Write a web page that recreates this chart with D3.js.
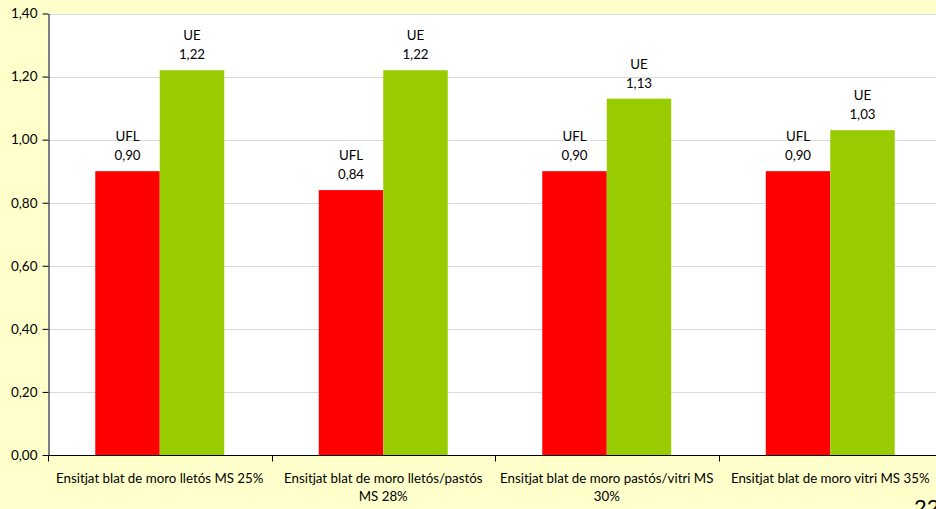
<!DOCTYPE html>
<html>
<head>
<meta charset="utf-8">
<script src="https://cdn.jsdelivr.net/npm/d3@7"></script>
<style>
  html, body { margin: 0; padding: 0; background: #FFFFCC; overflow: hidden; }
  svg { display: block; }
  text { font-family: Lato, "Open Sans", sans-serif; fill: #000; }
</style>
</head>
<body>
<svg id="chart" width="936" height="509"></svg>
<script>
const categories = [
  "Ensitjat blat de moro lletós MS 25%",
  "Ensitjat blat de moro lletós/pastós MS 28%",
  "Ensitjat blat de moro pastós/vitri MS 30%",
  "Ensitjat blat de moro vitri MS 35%"
];
const categoryLines = [
  ["Ensitjat blat de moro lletós MS 25%"],
  ["Ensitjat blat de moro lletós/pastós", "MS 28%"],
  ["Ensitjat blat de moro pastós/vitri MS", "30%"],
  ["Ensitjat blat de moro vitri MS 35%"]
];
const seriesNames = ["UFL", "UE"];
const uflValues = [0.90, 0.84, 0.90, 0.90];
const ueValues = [1.22, 1.22, 1.13, 1.03];
const yTicks = [0, 0.2, 0.4, 0.6, 0.8, 1.0, 1.2, 1.4];
const seriesColors = ["#FF0000", "#99CC00"];
const pageNumber = "22";

const svg = d3.select("#chart");
const plot = { left: 48, right: 942, top: 13.5, bottom: 455 };

svg.append("rect").attr("x", 0).attr("y", 0).attr("width", 936).attr("height", 509).attr("fill", "#FFFFCC");
svg.append("rect")
  .attr("x", plot.left).attr("y", plot.top)
  .attr("width", plot.right - plot.left).attr("height", plot.bottom - plot.top)
  .attr("fill", "#FFFFFF");

const x0 = d3.scaleBand().domain(categories).range([plot.left, plot.right]).paddingInner(0).paddingOuter(0);
const x1 = d3.scaleBand().domain(seriesNames).range([0, x0.bandwidth()]).paddingOuter(0.733).paddingInner(0);
const y = d3.scaleLinear().domain([0, 1.4]).range([plot.bottom, plot.top]);

const fmt = v => d3.format(".2f")(v).replace(".", ",");

// gridlines
svg.append("g").selectAll("line").data(yTicks.filter(t => t > 0)).join("line")
  .attr("x1", plot.left).attr("x2", plot.right)
  .attr("y1", d => Math.round(y(d)) + 0.5).attr("y2", d => Math.round(y(d)) + 0.5)
  .attr("stroke", "#D9D9D9").attr("stroke-width", 1);

// bars
const data = categories.map((c, i) => ({ cat: c, vals: [uflValues[i], ueValues[i]] }));
const groups = svg.append("g").selectAll("g").data(data).join("g")
  .attr("transform", d => `translate(${x0(d.cat)},0)`);
groups.selectAll("rect").data(d => d.vals.map((v, j) => ({ name: seriesNames[j], v, j }))).join("rect")
  .attr("x", d => x1(d.name)).attr("width", x1.bandwidth())
  .attr("y", d => y(d.v)).attr("height", d => y(0) - y(d.v))
  .attr("fill", d => seriesColors[d.j]);

// data labels
groups.each(function(d) {
  const g = d3.select(this);
  d.vals.forEach((v, j) => {
    const cx = x1(seriesNames[j]) + x1.bandwidth() / 2;
    g.append("text").attr("x", cx).attr("y", y(v) - 30).attr("text-anchor", "middle")
      .attr("font-size", 13.3).text(seriesNames[j]);
    g.append("text").attr("x", cx).attr("y", y(v) - 11).attr("text-anchor", "middle")
      .attr("font-size", 13.3).text(fmt(v));
  });
});

// y axis
const yAxis = d3.axisLeft(y).tickValues(yTicks).tickFormat(fmt).tickSize(6).tickSizeOuter(0);
const ya = svg.append("g").attr("transform", `translate(${plot.left + 0.5},0)`).call(yAxis);
ya.select(".domain").attr("stroke", "#000");
ya.selectAll(".tick line").attr("stroke", "#000");
ya.selectAll(".tick text").attr("font-size", 13.5).attr("font-family", "Lato, sans-serif").attr("x", -11).attr("fill", "#000");

// x axis
const xa = svg.append("g").attr("transform", `translate(0,${plot.bottom + 0.5})`);
xa.append("line").attr("x1", plot.left).attr("x2", plot.right).attr("stroke", "#000");
const bounds = categories.map(c => x0(c)).concat([x0(categories[categories.length - 1]) + x0.bandwidth()]);
xa.selectAll("line.tk").data(bounds).join("line").attr("class", "tk")
  .attr("x1", d => Math.round(d) + 0.5).attr("x2", d => Math.round(d) + 0.5)
  .attr("y1", 0).attr("y2", 6).attr("stroke", "#000");
categories.forEach((c, i) => {
  const cx = x0(c) + x0.bandwidth() / 2;
  const t = xa.append("text").attr("text-anchor", "middle").attr("font-size", 13.3);
  categoryLines[i].forEach((ln, k) => {
    t.append("tspan").attr("x", cx).attr("y", 27 + k * 18).text(ln);
  });
});

// page number
svg.append("text").attr("x", 914).attr("y", 515).attr("font-size", 22).text(pageNumber);
</script>
</body>
</html>
